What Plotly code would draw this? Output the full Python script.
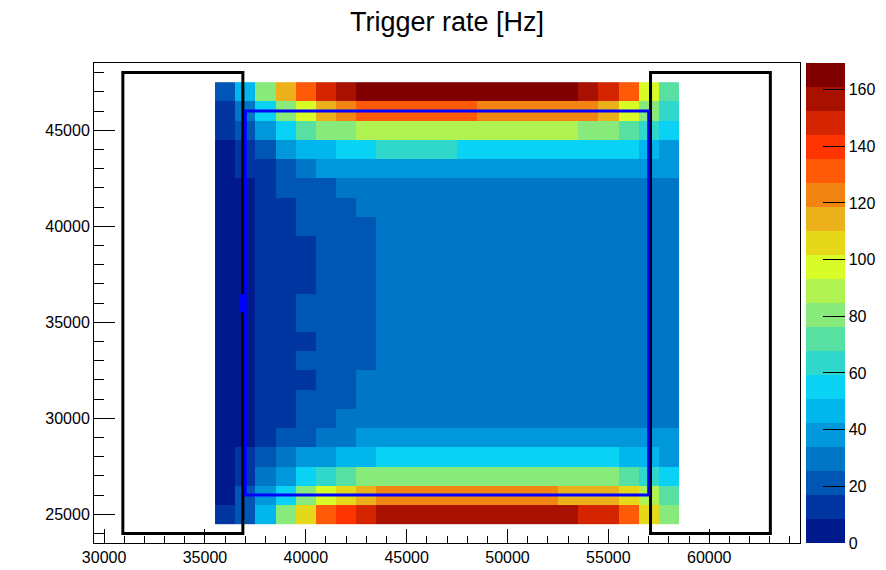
import plotly.graph_objects as go

# Bin centres
x_centers = [36000 + 1000 * i for i in range(23)]
y_centers = [25000 + 1000 * i for i in range(23)]

# Trigger rate [Hz], rows listed from top (y=47000) to bottom (y=25000)
rows_top_to_bottom = [
    [21, 47, 80, 114, 131, 148, 157, 165, 165, 165, 165, 165, 165, 165, 165, 165, 165, 165, 157, 148, 131, 97, 72],
    [13, 30, 55, 80, 97, 114, 123, 131, 131, 131, 131, 131, 131, 123, 123, 123, 123, 123, 123, 114, 97, 80, 64],
    [13, 21, 38, 55, 72, 80, 80, 89, 89, 89, 89, 89, 89, 89, 89, 89, 89, 89, 80, 80, 72, 64, 55],
    [4, 13, 21, 38, 47, 47, 55, 55, 64, 64, 64, 64, 55, 55, 55, 55, 55, 55, 55, 55, 55, 47, 38],
    [4, 13, 13, 21, 30, 38, 38, 38, 38, 38, 38, 38, 38, 38, 38, 38, 38, 38, 38, 38, 38, 38, 38],
    [4, 4, 13, 21, 21, 21, 30, 30, 30, 30, 30, 30, 30, 30, 30, 30, 30, 30, 30, 30, 30, 30, 30],
    [4, 4, 13, 13, 21, 21, 21, 30, 30, 30, 30, 30, 30, 30, 30, 30, 30, 30, 30, 30, 30, 30, 30],
    [4, 4, 13, 13, 21, 21, 21, 21, 30, 30, 30, 30, 30, 30, 30, 30, 30, 30, 30, 30, 30, 30, 30],
    [4, 4, 13, 13, 13, 21, 21, 21, 30, 30, 30, 30, 30, 30, 30, 30, 30, 30, 30, 30, 30, 30, 30],
    [4, 4, 13, 13, 13, 21, 21, 21, 30, 30, 30, 30, 30, 30, 30, 30, 30, 30, 30, 30, 30, 30, 30],
    [4, 4, 13, 13, 13, 21, 21, 21, 30, 30, 30, 30, 30, 30, 30, 30, 30, 30, 30, 30, 30, 30, 30],
    [4, 4, 13, 13, 21, 21, 21, 21, 30, 30, 30, 30, 30, 30, 30, 30, 30, 30, 30, 30, 30, 30, 30],
    [4, 4, 13, 13, 21, 21, 21, 21, 30, 30, 30, 30, 30, 30, 30, 30, 30, 30, 30, 30, 30, 30, 30],
    [4, 4, 13, 13, 13, 21, 21, 21, 30, 30, 30, 30, 30, 30, 30, 30, 30, 30, 30, 30, 30, 30, 30],
    [4, 4, 13, 13, 21, 21, 21, 21, 30, 30, 30, 30, 30, 30, 30, 30, 30, 30, 30, 30, 30, 30, 30],
    [4, 4, 13, 13, 13, 21, 21, 30, 30, 30, 30, 30, 30, 30, 30, 30, 30, 30, 30, 30, 30, 30, 30],
    [4, 4, 13, 13, 21, 21, 21, 30, 30, 30, 30, 30, 30, 30, 30, 30, 30, 30, 30, 30, 30, 30, 30],
    [4, 4, 13, 13, 21, 21, 30, 30, 30, 30, 30, 30, 30, 30, 30, 30, 30, 30, 30, 30, 30, 30, 30],
    [4, 4, 13, 21, 21, 30, 30, 38, 38, 38, 38, 38, 38, 38, 38, 38, 38, 38, 38, 38, 38, 38, 38],
    [4, 13, 21, 30, 38, 38, 47, 47, 55, 55, 55, 55, 55, 55, 55, 55, 55, 55, 55, 55, 47, 47, 38],
    [4, 13, 30, 38, 55, 64, 72, 80, 80, 80, 80, 80, 80, 80, 80, 80, 80, 80, 80, 80, 72, 64, 55],
    [4, 21, 38, 55, 80, 97, 106, 114, 123, 123, 123, 123, 123, 123, 123, 123, 123, 114, 114, 114, 106, 89, 72],
    [13, 21, 47, 80, 106, 131, 140, 148, 157, 157, 157, 157, 157, 157, 157, 157, 157, 157, 148, 148, 131, 106, 80],
]
z_values = rows_top_to_bottom[::-1]

z_min = 0
z_max = 169.4
colorbar_ticks = [0, 20, 40, 60, 80, 100, 120, 140, 160]
x_ticks = [30000, 35000, 40000, 45000, 50000, 55000, 60000]
x_tick_labels = ["30000", "35000", "40000", "45000", "50000", "55000", "60000"]
y_ticks = [25000, 30000, 35000, 40000, 45000]
y_tick_labels = ["25000", "30000", "35000", "40000", "45000"]

palette = [
    "#00198c", "#0035a2", "#0056b4", "#0076c6", "#0098da",
    "#00b6ec", "#0ad2f5", "#30d8cc", "#58e0a2", "#88ea7a",
    "#b0f252", "#d8fc28", "#e4d818", "#ecb01a", "#f28412",
    "#fe5a08", "#ff3400", "#d42400", "#a81000", "#800000",
]

# Overlay boxes (x0, x1, y0, y1)
black_boxes = [(30930, 36880, 24000, 48000), (57090, 63030, 24000, 48000)]
blue_box = (37000, 57000, 26000, 46000)
blue_marker = (36720, 37040, 35510, 36460)

n = len(palette)
colorscale = []
for k, c in enumerate(palette):
    colorscale.append([k / n, c])
    colorscale.append([(k + 1) / n, c])

fig = go.Figure()
fig.add_trace(go.Heatmap(
    x=x_centers, y=y_centers, z=z_values,
    zmin=z_min, zmax=z_max, colorscale=colorscale,
    colorbar=dict(
        x=1.0085, xanchor="left", y=0.5, yanchor="middle",
        len=1, lenmode="fraction", thickness=39, thicknessmode="pixels",
        xpad=0, ypad=0, outlinewidth=0,
        tickmode="array", tickvals=colorbar_ticks,
        ticktext=[str(v) for v in colorbar_ticks],
        ticks="inside", ticklen=22, tickcolor="black", tickwidth=1,
        tickfont=dict(family="Liberation Sans", size=16, color="black"),
    ),
    hoverinfo="skip",
))

shapes = []
for (x0, x1, y0, y1) in black_boxes:
    shapes.append(dict(type="rect", xref="x", yref="y", x0=x0, x1=x1, y0=y0, y1=y1,
                       line=dict(color="black", width=3)))
shapes.append(dict(type="rect", xref="x", yref="y", x0=blue_box[0], x1=blue_box[1],
                   y0=blue_box[2], y1=blue_box[3], line=dict(color="#0000ff", width=3)))
shapes.append(dict(type="rect", xref="x", yref="y", x0=blue_marker[0], x1=blue_marker[1],
                   y0=blue_marker[2], y1=blue_marker[3], line=dict(width=0),
                   fillcolor="#0000ff"))

axis_font = dict(family="Liberation Sans", size=16, color="black")
fig.update_layout(
    width=886, height=570,
    margin=dict(l=94, r=86, t=63, b=27, autoexpand=False),
    paper_bgcolor="white", plot_bgcolor="white",
    title=dict(text="Trigger rate [Hz]", x=0.5, xref="paper", xanchor="center",
               y=1 - 22 / 570, yref="container", yanchor="middle",
               font=dict(family="Liberation Sans", size=27, color="black")),
    shapes=shapes,
    xaxis=dict(range=[29500, 64500], tickmode="array", tickvals=x_ticks,
               ticktext=x_tick_labels,
               ticks="inside", ticklen=14, tickcolor="black", tickwidth=1,
               minor=dict(dtick=1000, tick0=0, ticks="inside", ticklen=7, tickcolor="black"),
               showgrid=False, zeroline=False, showline=True, linecolor="black",
               linewidth=1, mirror=True, tickfont=axis_font, fixedrange=True),
    yaxis=dict(range=[23500, 48500], tickmode="array", tickvals=y_ticks,
               ticktext=y_tick_labels,
               ticks="inside", ticklen=21, tickcolor="black", tickwidth=1,
               minor=dict(dtick=1000, tick0=0, ticks="inside", ticklen=10, tickcolor="black"),
               showgrid=False, zeroline=False, showline=True, linecolor="black",
               linewidth=1, mirror=True, tickfont=axis_font, fixedrange=True),
)

fig.write_html(
    "out.html",
    config={"displayModeBar": False, "staticPlot": True},
    post_script="document.body.style.margin='0px';document.body.style.overflow='hidden';",
)
